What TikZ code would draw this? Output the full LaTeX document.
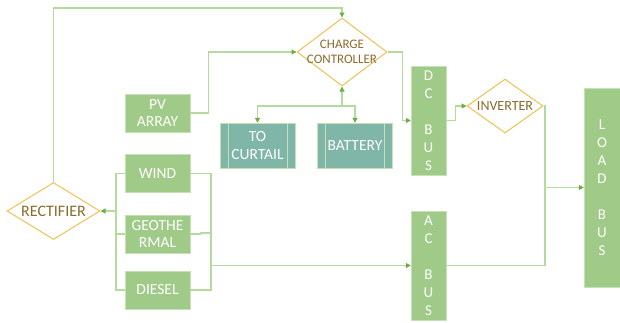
\documentclass[tikz,border=0pt]{standalone}
\usepackage{fontspec}
\setmainfont{Carlito}
\usetikzlibrary{shapes.geometric,arrows.meta}

\definecolor{boxgreen}{HTML}{9FCA87}
\definecolor{boxedge}{HTML}{C6E1B6}
\definecolor{boxteal}{HTML}{7FB6A7}
\definecolor{diaedge}{HTML}{F2C052}
\definecolor{diatext}{HTML}{8A6C2C}
\definecolor{linegreen}{HTML}{B4DA9E}
\definecolor{tipgreen}{HTML}{6EAD45}

\tikzset{
  srcbox/.style={draw=boxedge, fill=boxgreen, text=white, align=center,
    minimum width=65pt, minimum height=38pt, inner sep=0pt,
    font=\fontsize{15.5}{17.5}\selectfont},
  busbox/.style={draw=boxedge, fill=boxgreen, text=white, align=center,
    minimum width=35pt, inner sep=0pt, font=\fontsize{15}{18}\selectfont},
  storebox/.style={draw=boxedge, fill=boxteal, text=white, align=center,
    minimum width=75pt, minimum height=45pt, inner sep=0pt,
    font=\fontsize{15.5}{18}\selectfont,
    path picture={
      \draw[boxedge, line width=1pt]
        ([xshift=8pt]path picture bounding box.north west) -- ([xshift=8pt]path picture bounding box.south west)
        ([xshift=-8pt]path picture bounding box.north east) -- ([xshift=-8pt]path picture bounding box.south east);
    }},
  convbox/.style={diamond, draw=diaedge, fill=white, line width=1pt, inner sep=0pt},
  convtext/.style={text=diatext, align=center, inner sep=0pt},
  conn/.style={draw=linegreen, line width=1.1pt},
  feed/.style={conn, -{Triangle[length=5pt, width=5pt, color=tipgreen]}}
}

\begin{document}
\begin{tikzpicture}[x=1pt, y=-1pt]
  \useasboundingbox (0,0) rectangle (620,322);
  % sources
  \node[srcbox] (pv) at (157.5,113) {PV\\ARRAY};
  \node[srcbox] (wind) at (157.5,173.5) {WIND};
  \node[srcbox] (geo) at (157.5,234) {GEOTHE\\RMAL};
  \node[srcbox] (diesel) at (157.5,290) {DIESEL};
  % converters (text laid over the diamond, it may run past the outline)
  \node[convbox, minimum width=90pt, minimum height=68pt,
    label={[convtext, font=\fontsize{13}{15.5}\selectfont]center:CHARGE\\CONTROLLER}] (cc) at (342,52) {};
  \node[convbox, minimum width=76pt, minimum height=54pt,
    label={[convtext, font=\fontsize{14}{15}\selectfont]center:INVERTER}] (inv) at (505,106) {};
  \node[convbox, minimum width=93pt, minimum height=57pt,
    label={[convtext, font=\fontsize{16}{17}\selectfont]center:RECTIFIER}] (rect) at (53.5,211) {};
  % storage
  \node[storebox] (curtail) at (257.5,145.5) {TO\\CURTAIL};
  \node[storebox] (batt) at (355,145.5) {BATTERY};
  % buses
  \node[busbox, minimum height=109pt] (dcbus) at (428.5,120.5) {D\\C\\ \\B\\U\\S};
  \node[busbox, minimum height=109pt] (acbus) at (428.5,265.5) {A\\C\\ \\B\\U\\S};
  \node[busbox, minimum width=36pt, minimum height=199pt] (load) at (602,187.5) {L\\O\\A\\D\\ \\B\\U\\S};

  % rectifier back to charge controller
  \coordinate (topc) at (53.5,8);
  \draw[feed] (rect.north) -- (topc) -| (cc.north);
  % pv array
  \draw[feed] (pv.east) -- ++(18,0) |- (cc.west);
  % controller to storage
  \coordinate (ccj) at (342,106);
  \draw[feed] (ccj) -- (cc.south);
  \draw[feed] (ccj) -| (curtail.north);
  \draw[feed] (ccj) -| (batt.north);
  % controller to dc bus, dc bus to inverter
  \draw[feed] (cc.east) -- ++(15,0) |- (dcbus.west);
  \draw[feed] (dcbus.east) -- ++(9,0) |- (inv.west);
  % to load bus
  \coordinate (lj) at (545,187.5);
  \draw[conn] (inv.east) -| (lj);
  \draw[conn] (acbus.east) -| (lj);
  \draw[feed] (lj) -- (load.west);
  % ac generators to ac bus
  \coordinate (srtop) at (211,173.5);
  \coordinate (srbot) at (211,290);
  \coordinate (geoj) at (211,233);
  \coordinate (acj) at (211,265.5);
  \draw[conn] (wind.east) -- (srtop) -- (srbot) -- (diesel.east);
  \draw[conn] (geo.east) -- ++(10,0) |- (geoj);
  \draw[feed] (acj) -- (acbus.west);
  % ac generators to rectifier
  \coordinate (sltop) at (116,173.5);
  \coordinate (slbot) at (116,290);
  \coordinate (rj) at (116,211);
  \draw[conn] (wind.west) -- (sltop) -- (slbot) -- (diesel.west);
  \draw[conn] (geo.west) -- (geo.west -| sltop);
  \draw[feed] (rj) -- (rect.east);
\end{tikzpicture}
\end{document}
